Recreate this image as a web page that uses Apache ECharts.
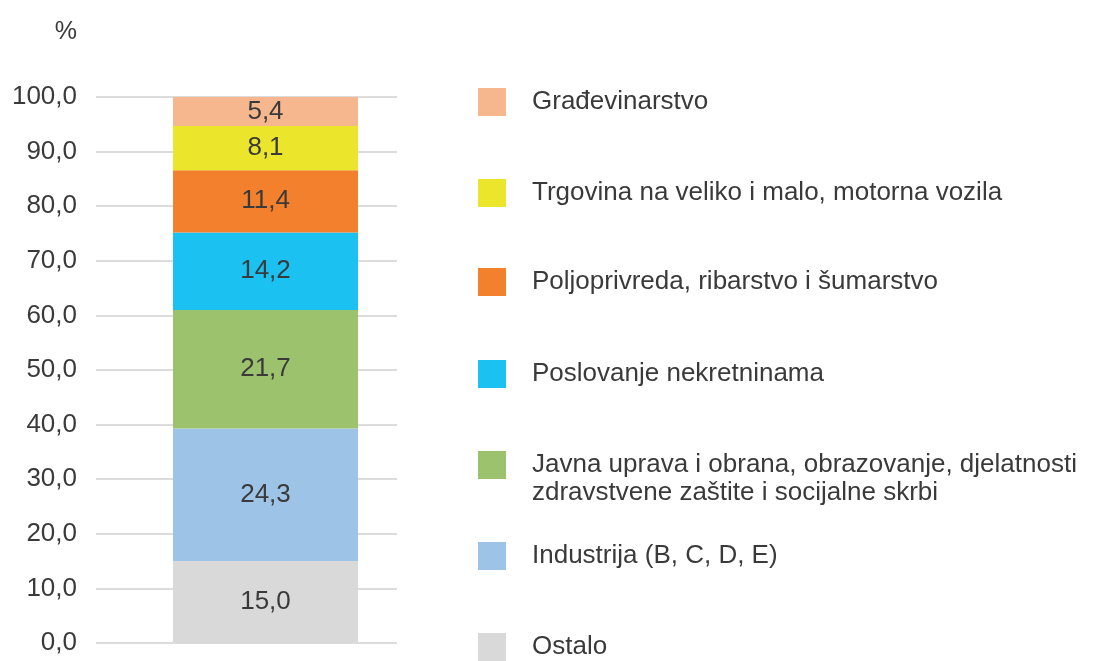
<!DOCTYPE html>
<html>
<head>
<meta charset="utf-8">
<script src="https://cdn.jsdelivr.net/npm/echarts@6/dist/echarts.min.js"></script>
<style>
  html, body { margin: 0; padding: 0; background: #fff; }
  #chart { width: 1101px; height: 661px; }
</style>
</head>
<body>
<div id="chart"></div>
<script>
// sectors, bottom to top of the stacked bar
const sectors = [
  "Ostalo",
  "Industrija (B, C, D, E)",
  "Javna uprava i obrana, obrazovanje, djelatnosti zdravstvene zaštite i socijalne skrbi",
  "Poslovanje nekretninama",
  "Poljoprivreda, ribarstvo i šumarstvo",
  "Trgovina na veliko i malo, motorna vozila",
  "Građevinarstvo"
]
const shares = [15.0, 24.3, 21.7, 14.2, 11.4, 8.1, 5.4]
const colors = ["#d9d9d9", "#9dc3e6", "#9cc26d", "#1bc1f0", "#f2802d", "#ebe62c", "#f6b68e"]
// legend square tops (px), same order as sectors
const legendTops = [633, 542, 451, 360, 268, 179, 88]

const FONT = "'Liberation Sans', Arial, sans-serif"
const TXT = "#3a3a3a"
const fmt = v => v.toFixed(1).replace(".", ",")

const chart = echarts.init(document.getElementById("chart"))

const series = sectors.map((name, i) => ({
  name: name,
  type: "bar",
  stack: "total",
  barWidth: 185,
  barGap: "100%",
  data: [shares[i]],
  itemStyle: { color: colors[i] },
  label: {
    show: true,
    position: "inside",
    formatter: p => fmt(p.value),
    color: TXT,
    fontFamily: FONT,
    fontSize: 26
  }
}))

// empty spacer stack so the bar sits right of the band centre, as in the original
series.unshift({
  name: "spacer",
  type: "bar",
  stack: "spacer",
  barWidth: 19,
  barGap: "100%",
  data: [null],
  silent: true
})

const legends = sectors.map((name, i) => {
  const twoLine = name.indexOf("zdravstvene") > 0
  return {
    data: [name],
    orient: "vertical",
    left: 478,
    top: twoLine ? legendTops[i] - 28 : legendTops[i],
    padding: 0,
    icon: "rect",
    itemWidth: 28,
    itemHeight: 28,
    selectedMode: false,
    formatter: n => twoLine ? "\n" + n.replace(" zdravstvene", "\nzdravstvene") : n,
    textStyle: {
      color: TXT,
      fontFamily: FONT,
      fontSize: 26,
      lineHeight: 28,
      padding: [0, 0, 0, 21]
    }
  }
})

const option = {
  animation: false,
  backgroundColor: "#fff",
  grid: { left: 96, right: 704, top: 97, bottom: 18 },
  legend: legends,
  xAxis: {
    type: "category",
    data: [""],
    axisLine: { show: false },
    axisTick: { show: false },
    axisLabel: { show: false }
  },
  yAxis: {
    type: "value",
    min: 0,
    max: 100,
    interval: 10,
    name: "%",
    nameLocation: "end",
    nameGap: 52,
    nameTextStyle: {
      color: TXT,
      fontFamily: FONT,
      fontSize: 25,
      align: "right",
      padding: [0, 19, 0, 0]
    },
    axisLine: { show: false },
    axisTick: { show: false },
    axisLabel: {
      margin: 19,
      color: TXT,
      fontFamily: FONT,
      fontSize: 26,
      formatter: v => fmt(v)
    },
    splitLine: { lineStyle: { color: "#dcdcdc", width: 2 } }
  },
  series: series
}

chart.setOption(option)
window.addEventListener("resize", () => chart.resize())
</script>
</body>
</html>
